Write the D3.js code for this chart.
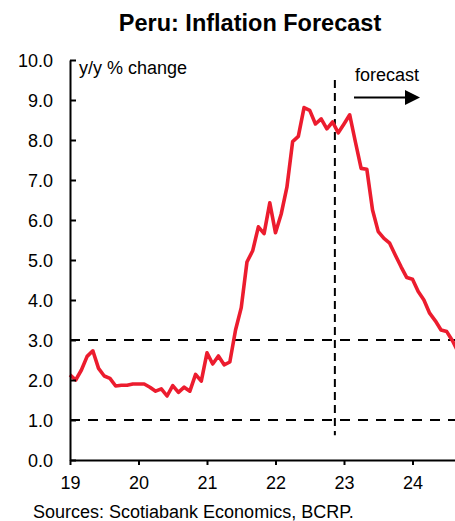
<!DOCTYPE html>
<html>
<head>
<meta charset="utf-8">
<script src="https://cdn.jsdelivr.net/npm/d3@7"></script>
<style>
  html, body { margin: 0; padding: 0; background: #fff; }
  svg { display: block; }
  text { font-family: "Liberation Sans", Arial, sans-serif; fill: #000; }
</style>
</head>
<body>
<div id="chart"></div>
<script>
// ---- data ----
const startYear = 2019;          // first observation: Jan 2019, monthly
const inflation = [
  // 2019
  2.13, 2.00, 2.25, 2.59, 2.73, 2.29, 2.10, 2.04, 1.85, 1.87, 1.87, 1.90,
  // 2020
  1.90, 1.90, 1.82, 1.72, 1.78, 1.60, 1.86, 1.69, 1.82, 1.72, 2.14, 1.97,
  // 2021
  2.68, 2.40, 2.60, 2.38, 2.45, 3.25, 3.81, 4.95, 5.23, 5.83, 5.66, 6.43,
  // 2022
  5.68, 6.15, 6.82, 7.96, 8.09, 8.81, 8.74, 8.40, 8.53, 8.28, 8.45, 8.18,
  // 2023
  8.40, 8.63, 7.95, 7.29, 7.27, 6.25, 5.71, 5.54, 5.42, 5.12, 4.83, 4.56,
  // 2024
  4.52, 4.21, 4.00, 3.67, 3.48, 3.25, 3.21, 2.98, 2.70
];
const yTicks = [0, 1, 2, 3, 4, 5, 6, 7, 8, 9, 10];
const xTicks = [2019, 2020, 2021, 2022, 2023, 2024];
const xTickLabels = ["19", "20", "21", "22", "23", "24"];
const refLevels = [1, 3];            // target range bounds
const forecastStart = 2022 + 10.4 / 12; // vertical divider
const title = "Peru: Inflation Forecast";
const yLabel = "y/y % change";
const forecastLabel = "forecast";
const source = "Sources: Scotiabank Economics, BCRP.";

// ---- layout ----
const W = 455, H = 521;
const x = d3.scaleLinear().domain([2019, 2025]).range([70, 481]);
const y = d3.scaleLinear().domain([0, 10]).range([460, 60]);
const red = "#ec1c2e";

const svg = d3.select("#chart").append("svg")
  .attr("width", W).attr("height", H);

// title
svg.append("text")
  .attr("x", 250).attr("y", 30.5)
  .attr("text-anchor", "middle")
  .attr("font-size", 23.5).attr("font-weight", "bold")
  .text(title);

// reference dashed lines
svg.append("g").selectAll("line").data(refLevels).join("line")
  .attr("x1", x(2019)).attr("x2", W)
  .attr("y1", d => y(d)).attr("y2", d => y(d))
  .attr("stroke", "#000").attr("stroke-width", 2)
  .attr("stroke-dasharray", "10,8");

// forecast divider
svg.append("line")
  .attr("x1", x(forecastStart)).attr("x2", x(forecastStart))
  .attr("y1", y(9.5)).attr("y2", y(0.62))
  .attr("stroke", "#000").attr("stroke-width", 2)
  .attr("stroke-dasharray", "8,5");

// series line
const pts = inflation.map((v, i) => ({ t: startYear + i / 12, v }));
svg.append("path")
  .datum(pts)
  .attr("fill", "none")
  .attr("stroke", red)
  .attr("stroke-width", 3.6)
  .attr("stroke-linejoin", "round")
  .attr("d", d3.line().x(d => x(d.t)).y(d => y(d.v)));

// y axis
const yAxis = d3.axisLeft(y)
  .tickValues(yTicks)
  .tickFormat(d3.format(".1f"))
  .tickSizeInner(-6).tickSizeOuter(0).tickPadding(17);
const gy = svg.append("g").attr("transform", `translate(${x(2019)},0)`).call(yAxis);
gy.selectAll("text").attr("font-size", 18).attr("dy", "0.38em")
  .attr("font-family", '"Liberation Sans", Arial, sans-serif');
gy.selectAll("path, line").attr("stroke", "#000").attr("stroke-width", 2);

// x axis
const xAxis = d3.axisBottom(x)
  .tickValues(xTicks)
  .tickFormat((d, i) => xTickLabels[i])
  .tickSizeInner(5).tickSizeOuter(0).tickPadding(11);
const gx = svg.append("g").attr("transform", `translate(0,${y(0)})`).call(xAxis);
gx.selectAll("text").attr("font-size", 18)
  .attr("font-family", '"Liberation Sans", Arial, sans-serif');
gx.selectAll("path, line").attr("stroke", "#000").attr("stroke-width", 2);

// annotations
svg.append("text").attr("x", 79).attr("y", 74)
  .attr("font-size", 18).text(yLabel);

svg.append("text").attr("x", 355).attr("y", 80.5)
  .attr("font-size", 18).text(forecastLabel);

const ay = 97.5;
svg.append("line")
  .attr("x1", 354).attr("x2", 408).attr("y1", ay).attr("y2", ay)
  .attr("stroke", "#000").attr("stroke-width", 2);
svg.append("path")
  .attr("d", `M405,${ay - 7.5}L420,${ay}L405,${ay + 7.5}Z`)
  .attr("fill", "#000");

svg.append("text").attr("x", 33).attr("y", 518)
  .attr("font-size", 18).text(source);
</script>
</body>
</html>
